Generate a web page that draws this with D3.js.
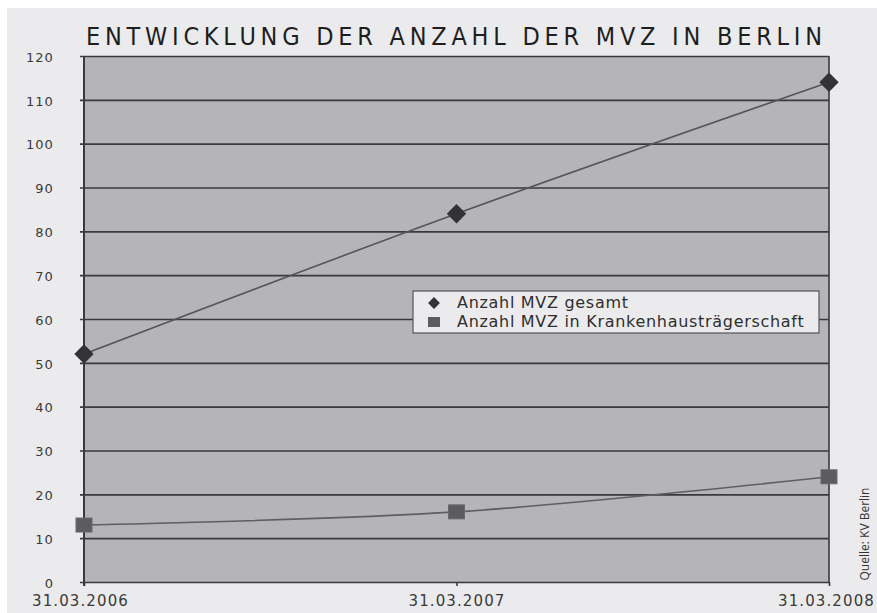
<!DOCTYPE html>
<html>
<head>
<meta charset="utf-8">
<script src="https://cdn.jsdelivr.net/npm/d3@7"></script>
<style>
  body { margin: 0; background: #fff; }
  text { font-family: "DejaVu Sans", Verdana, sans-serif; }
</style>
</head>
<body>
<div id="viz"></div>
<script>
const width = 877;
const height = 613;

// data
const dates = ["31.03.2006", "31.03.2007", "31.03.2008"];
const gesamt = [52, 84, 114];
const krankenhaus = [13, 16, 24];
const seriesNames = ["Anzahl MVZ gesamt", "Anzahl MVZ in Krankenhausträgerschaft"];
const yTicks = [0, 10, 20, 30, 40, 50, 60, 70, 80, 90, 100, 110, 120];
const title = "ENTWICKLUNG DER ANZAHL DER MVZ IN BERLIN";

const svg = d3.select("#viz")
    .append("svg")
    .attr("width", width)
    .attr("height", height);

// outer light panel
svg.append("rect")
    .attr("x", 7).attr("y", 8)
    .attr("width", width - 7).attr("height", height - 8)
    .attr("fill", "#ebebed");

const margin = { top: 56, right: 48, left: 84, bottom: 31 };
const innerWidth = width - margin.left - margin.right;
const innerHeight = height - margin.top - margin.bottom;

const xScale = d3.scalePoint()
    .domain(dates)
    .range([0, innerWidth]);

const yScale = d3.scaleLinear()
    .domain([0, 120])
    .range([innerHeight, 0]);

const g = svg.append("g")
    .attr("transform", `translate(${margin.left}, ${margin.top})`);

// plot background
g.append("rect")
    .attr("width", innerWidth)
    .attr("height", innerHeight)
    .attr("fill", "#b5b5b9");

// y axis with gridlines
const yAxis = d3.axisLeft(yScale)
    .tickValues(yTicks)
    .tickSize(-innerWidth - 4)
    .tickPadding(30)
    .tickFormat(d3.format("d"));

const yAxisG = g.append("g").call(yAxis);
yAxisG.select(".domain").remove();
yAxisG.selectAll(".tick line")
    .attr("x1", -4)
    .attr("x2", innerWidth)
    .attr("stroke", "#3a3a3c")
    .attr("stroke-width", 1.6);
yAxisG.selectAll(".tick text")
    .attr("fill", "#3a3a3a")
    .attr("dy", "0.4em")
    .style("font-size", "13px")
    .style("letter-spacing", "1.1px");

// frame: left axis + right edge
g.append("line")
    .attr("x1", 0).attr("x2", 0)
    .attr("y1", 0).attr("y2", innerHeight + 4)
    .attr("stroke", "#3a3a3c").attr("stroke-width", 2);
g.append("line")
    .attr("x1", innerWidth).attr("x2", innerWidth)
    .attr("y1", 0).attr("y2", innerHeight)
    .attr("stroke", "#3a3a3c").attr("stroke-width", 1.6);

// x axis labels
const xAxis = d3.axisBottom(xScale)
    .tickSize(4)
    .tickPadding(9);
const xAxisG = g.append("g")
    .attr("transform", `translate(0, ${innerHeight})`)
    .call(xAxis);
xAxisG.select(".domain").remove();
xAxisG.selectAll(".tick line").attr("stroke", "#3a3a3c").attr("stroke-width", 1.6);
xAxisG.selectAll(".tick text")
    .attr("fill", "#3a3a3a")
    .attr("dx", (d, i) => i === 0 ? -4 : i === 2 ? -3 : 0)
    .style("font-size", "15px")
    .style("letter-spacing", "1.1px");

// lines
const lineGen = d3.line()
    .curve(d3.curveCatmullRom.alpha(0.5))
    .x((d, i) => xScale(dates[i]))
    .y(d => yScale(d));

g.append("path")
    .attr("d", lineGen(gesamt))
    .attr("fill", "none")
    .attr("stroke", "#555558")
    .attr("stroke-width", 1.6);

g.append("path")
    .attr("d", lineGen(krankenhaus))
    .attr("fill", "none")
    .attr("stroke", "#5f5f62")
    .attr("stroke-width", 1.6);

// markers
const diamond = d3.symbol().type(d3.symbolDiamond2).size(240);
g.selectAll(".m1")
    .data(gesamt)
    .enter()
    .append("path")
    .attr("class", "m1")
    .attr("d", diamond)
    .attr("transform", (d, i) => `translate(${xScale(dates[i])}, ${yScale(d)})`)
    .attr("fill", "#333335");

g.selectAll(".m2")
    .data(krankenhaus)
    .enter()
    .append("rect")
    .attr("class", "m2")
    .attr("x", (d, i) => xScale(dates[i]) - 8)
    .attr("y", d => yScale(d) - 7)
    .attr("width", 16)
    .attr("height", 14)
    .attr("fill", "#5c5c5f")
    .attr("stroke", "#6a6a6d");

// legend
const legend = g.append("g")
    .attr("transform", "translate(329, 235)");
legend.append("rect")
    .attr("width", 406)
    .attr("height", 42)
    .attr("fill", "#ebebed")
    .attr("stroke", "#555")
    .attr("stroke-width", 1.2);
legend.append("path")
    .attr("d", d3.symbol().type(d3.symbolDiamond2).size(90))
    .attr("transform", "translate(21, 12)")
    .attr("fill", "#333335");
legend.append("rect")
    .attr("x", 15).attr("y", 26)
    .attr("width", 12).attr("height", 10)
    .attr("fill", "#5c5c5f");
legend.selectAll(".ltext")
    .data(seriesNames)
    .enter()
    .append("text")
    .attr("class", "ltext")
    .attr("x", 44)
    .attr("y", (d, i) => 17 + i * 19)
    .attr("fill", "#2e2e2e")
    .style("font-size", "16px")
    .style("letter-spacing", "0.7px")
    .text(d => d);

// title
svg.append("text")
    .attr("x", 86)
    .attr("y", 45)
    .attr("textLength", 736)
    .attr("lengthAdjust", "spacing")
    .attr("fill", "#1e1e1e")
    .style("font-family", "'Liberation Sans Narrow', 'DejaVu Sans Condensed', sans-serif")
    .style("font-size", "25px")
    .text(title);

// source
svg.append("text")
    .attr("transform", "translate(869, 534) rotate(-90)")
    .attr("text-anchor", "middle")
    .attr("fill", "#333")
    .style("font-family", "'Open Sans', sans-serif")
    .style("font-size", "12px")
    .text("Quelle: KV Berlin");
</script>
</body>
</html>
